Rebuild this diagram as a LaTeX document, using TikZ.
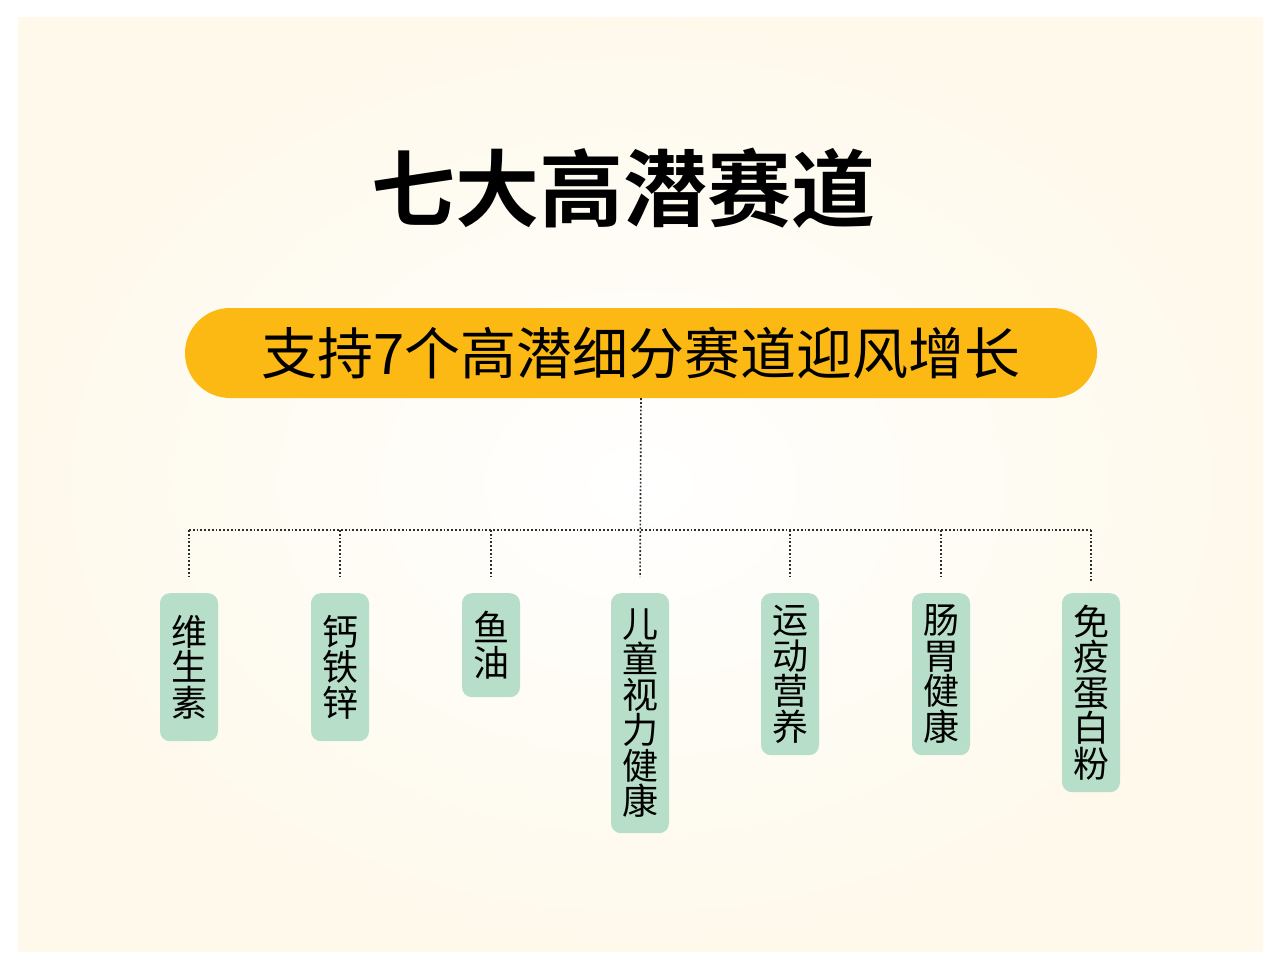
\documentclass[tikz,border=0pt]{standalone}
\usepackage{fontspec}
\setmainfont{Noto Sans CJK SC}
\newfontfamily\titlefont{Noto Sans CJK SC Bold}
\usetikzlibrary{positioning, calc}
\definecolor{panelcream}{RGB}{254,249,235}
\definecolor{bannerorange}{RGB}{253,185,19}
\definecolor{trackgreen}{RGB}{183,222,200}
\definecolor{dotgray}{RGB}{45,45,45}
\tikzset{
  headline/.style={
    font=\fontsize{84}{90}\titlefont, inner sep=0pt
  },
  banner/.style={
    rectangle, rounded corners=45pt,
    minimum width=912pt, minimum height=90pt,
    fill=bannerorange, inner sep=0pt,
    font=\fontsize{56}{60}\selectfont
  },
  trackbox/.style={
    rectangle, rounded corners=10pt,
    minimum width=58pt, inner sep=0pt,
    fill=trackgreen, anchor=north, align=center,
    font=\fontsize{36}{35.5}\selectfont
  },
  dotline/.style={dotgray, line width=1.6pt, dash pattern=on 1.8pt off 2pt},
}

\begin{document}
\begin{tikzpicture}[x=1pt, y=-1pt]

  % Page and panel
  \useasboundingbox (0,0) rectangle (1280,969);
  \fill[white] (0,0) rectangle (1280,969);
  \shade[inner color=white, outer color=panelcream] (18,17) rectangle (1263,951);

  % Heading and banner
  \node[headline] (title) at (623,188) {七大高潜赛道};
  \node[banner] (banner) at (641,353) {支持7个高潜细分赛道迎风增长};

  % Tracks
  \node[trackbox, minimum height=148pt] (t1) at (189,593)  {维\\生\\素};
  \node[trackbox, minimum height=148pt] (t2) at (340,593)  {钙\\铁\\锌};
  \node[trackbox, minimum height=104pt] (t3) at (491,593)  {鱼\\油};
  \node[trackbox, minimum height=240pt] (t4) at (640,593)  {儿\\童\\视\\力\\健\\康};
  \node[trackbox, minimum height=162pt] (t5) at (790,593)  {运\\动\\营\\养};
  \node[trackbox, minimum height=162pt] (t6) at (941,593)  {肠\\胃\\健\\康};
  \node[trackbox, minimum height=199pt] (t7) at (1091,593) {免\\疫\\蛋\\白\\粉};

  % Dotted tree
  \coordinate (hub) at (640,530);
  \draw[dotline, shorten >=16pt] (banner.south) -- (t4.north);
  \draw[dotline] (t1.north |- hub) -- (t7.north |- hub);
  \draw[dotline, shorten >=16pt] (t1.north |- hub) -- (t1.north);
  \draw[dotline, shorten >=16pt] (t2.north |- hub) -- (t2.north);
  \draw[dotline, shorten >=16pt] (t3.north |- hub) -- (t3.north);
  \draw[dotline, shorten >=16pt] (t5.north |- hub) -- (t5.north);
  \draw[dotline, shorten >=16pt] (t6.north |- hub) -- (t6.north);
  \draw[dotline, shorten >=12pt] (t7.north |- hub) -- (t7.north);

\end{tikzpicture}
\end{document}
